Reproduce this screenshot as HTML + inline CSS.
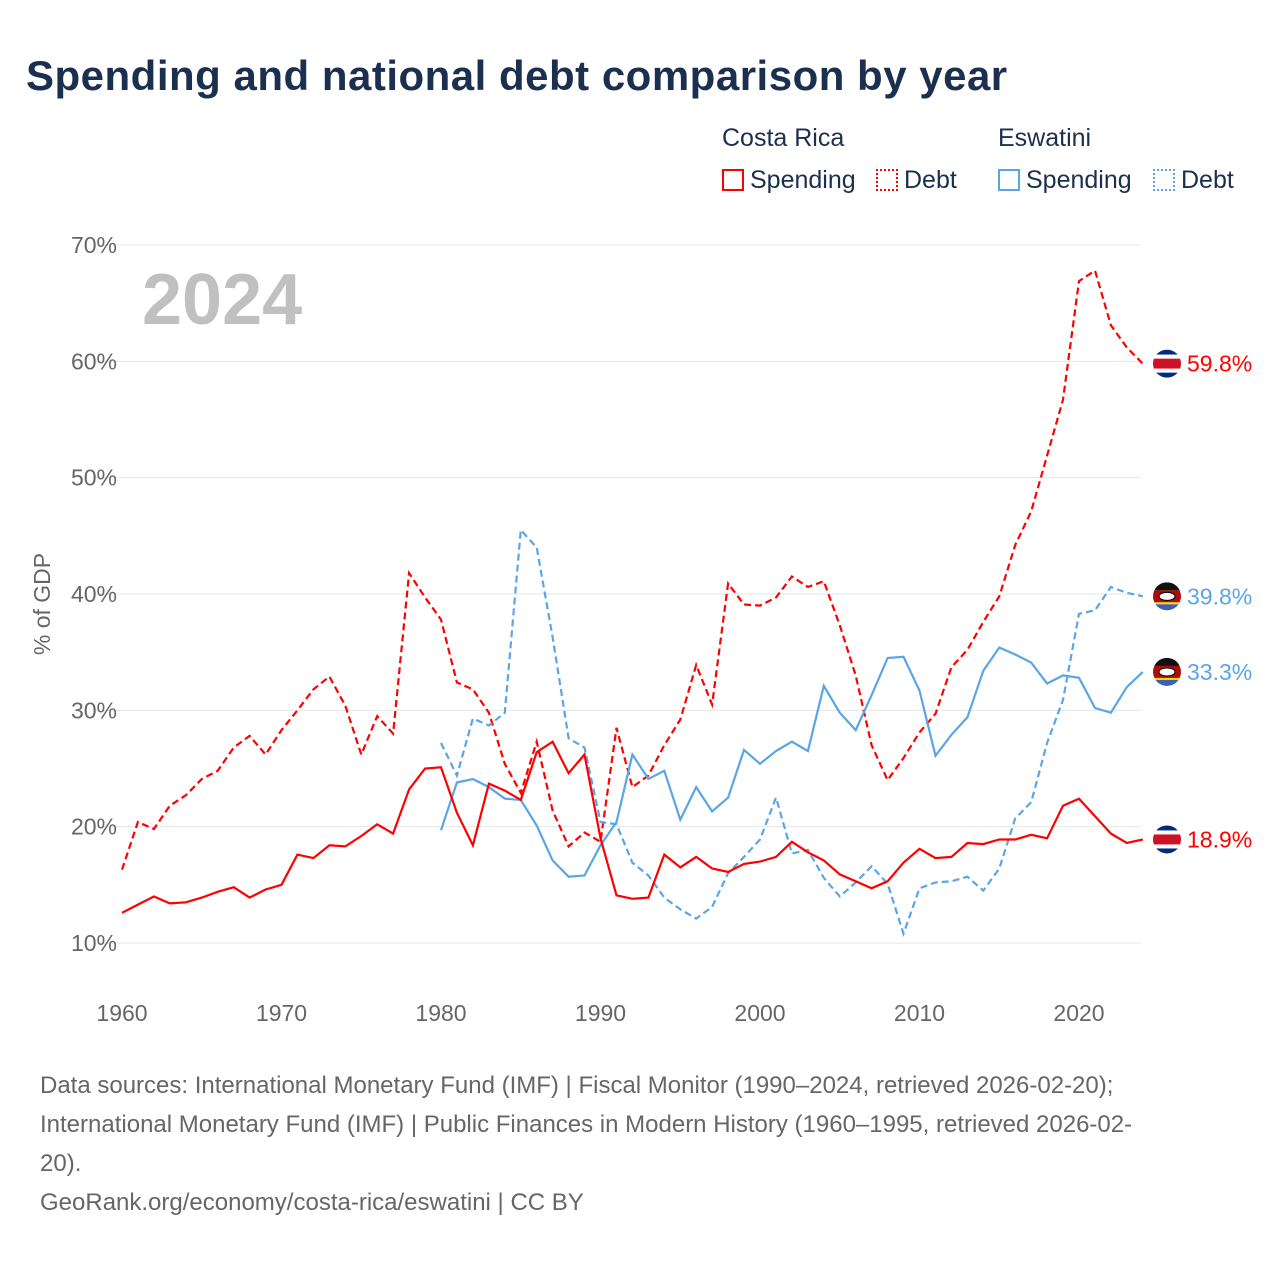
<!DOCTYPE html>
<html><head><meta charset="utf-8">
<style>
body{margin:0;background:#fff;font-family:"Liberation Sans",sans-serif;}
#wrap{position:relative;width:1280px;height:1280px;overflow:hidden;}
h1{position:absolute;left:26px;top:52px;margin:0;font-size:42px;font-weight:bold;color:#1b2f4e;letter-spacing:0.5px;}
.leg{position:absolute;font-size:25px;color:#1b2f4e;}
.foot{position:absolute;left:40px;top:1066px;width:1220px;font-size:24px;line-height:39px;color:#666;}
</style></head><body>
<div id="wrap">
<h1>Spending and national debt comparison by year</h1>
<div class="leg" style="left:722px;top:124px">Costa Rica</div>
<div class="leg" style="left:998px;top:124px">Eswatini</div>
<div class="leg" style="left:722px;top:166px"><span style="display:inline-block;width:22px;height:22px;border:2px solid #f00;box-sizing:border-box;vertical-align:-3px;margin-right:6px"></span>Spending</div>
<div class="leg" style="left:876px;top:166px"><span style="display:inline-block;width:22px;height:22px;border:2px dotted #f00;box-sizing:border-box;vertical-align:-3px;margin-right:6px"></span>Debt</div>
<div class="leg" style="left:998px;top:166px"><span style="display:inline-block;width:22px;height:22px;border:2px solid #5aa5e8;box-sizing:border-box;vertical-align:-3px;margin-right:6px"></span>Spending</div>
<div class="leg" style="left:1153px;top:166px"><span style="display:inline-block;width:22px;height:22px;border:2px dotted #5aa5e8;box-sizing:border-box;vertical-align:-3px;margin-right:6px"></span>Debt</div>
<svg id="chart" width="1280" height="1280" style="position:absolute;left:0;top:0"></svg>
<div class="foot">Data sources: International Monetary Fund (IMF) | Fiscal Monitor (1990–2024, retrieved 2026-02-20);<br>International Monetary Fund (IMF) | Public Finances in Modern History (1960–1995, retrieved 2026-02-<br>20).<br>GeoRank.org/economy/costa-rica/eswatini | CC BY</div>
</div>
<script>
const yTicks=[10,20,30,40,50,60,70];
const xTicks=[1960,1970,1980,1990,2000,2010,2020];
const crYears0=1960;
const crSpending=[12.6,13.3,14.0,13.4,13.5,13.9,14.4,14.8,13.9,14.6,15.0,17.6,17.3,18.4,18.3,19.2,20.2,19.4,23.2,25.0,25.1,21.2,18.4,23.7,23.1,22.3,26.4,27.3,24.6,26.2,19.0,14.1,13.8,13.9,17.6,16.5,17.4,16.4,16.1,16.8,17.0,17.4,18.7,17.8,17.1,15.9,15.3,14.7,15.3,16.9,18.1,17.3,17.4,18.6,18.5,18.9,18.9,19.3,19.0,21.8,22.4,20.9,19.4,18.6,18.9];
const crDebt=[16.3,20.4,19.8,21.8,22.7,24.1,24.8,26.8,27.8,26.2,28.3,30.0,31.8,32.9,30.4,26.2,29.5,28.0,41.8,39.7,37.8,32.4,31.8,29.8,25.4,22.9,27.3,21.4,18.3,19.5,18.7,28.5,23.4,24.4,27.0,29.2,33.9,30.5,40.9,39.1,39.0,39.7,41.5,40.6,41.1,37.3,33.0,27.0,24.0,25.9,28.1,29.7,33.7,35.2,37.6,39.8,44.2,47.1,51.9,56.7,66.9,67.8,63.1,61.2,59.8];
const szYears0=1980;
const szSpending=[19.7,23.8,24.1,23.4,22.4,22.3,20.1,17.1,15.7,15.8,18.4,20.4,26.2,24.1,24.8,20.6,23.4,21.3,22.5,26.6,25.4,26.5,27.3,26.5,32.1,29.8,28.3,31.3,34.5,34.6,31.7,26.1,27.9,29.4,33.4,35.4,34.8,34.1,32.3,33.0,32.8,30.2,29.8,32.0,33.3];
const szDebt=[27.2,24.4,29.3,28.7,29.8,45.5,44.0,36.3,27.6,26.8,20.4,20.2,16.9,15.8,13.9,12.9,12.1,13.1,16.0,17.4,18.9,22.5,17.7,18.0,15.6,14.0,15.2,16.6,15.1,10.8,14.7,15.2,15.3,15.7,14.5,16.4,20.7,22.1,27.2,30.9,38.3,38.6,40.6,40.1,39.8];

const X=y=>122+(y-1960)*(1079-122)/60;
const Y=v=>943-(v-10)*(943-245)/60;
const svg=document.getElementById('chart');
const NS='http://www.w3.org/2000/svg';
function mk(t,a){const e=document.createElementNS(NS,t);for(const k in a)e.setAttribute(k,a[k]);svg.appendChild(e);return e;}
yTicks.forEach(v=>{
 const l=mk('line',{x1:95,x2:1141,y1:Y(v),y2:Y(v),stroke:'#e6e6e6','stroke-width':1});
 
 
 const t=mk('text',{x:117,y:Y(v)+8,'text-anchor':'end','font-size':23,fill:'#666','font-family':'Liberation Sans, sans-serif'});
 t.textContent=v+'%';
 
 
});
xTicks.forEach(y=>{
 const t=mk('text',{x:X(y),y:1021,'text-anchor':'middle','font-size':23,fill:'#666','font-family':'Liberation Sans, sans-serif'});
 t.textContent=y;
 
 
});
const yt=mk('text',{x:0,y:0,transform:'translate(50,604) rotate(-90)','text-anchor':'middle','font-size':23,fill:'#666','font-family':'Liberation Sans, sans-serif'});
yt.textContent='% of GDP';


const yr=mk('text',{x:142,y:324,'font-size':72,'font-weight':'bold',fill:'#c0c0c0','font-family':'Liberation Sans, sans-serif'});
yr.textContent='2024';



function series(arr,y0,color,dash,name){
 const d=arr.map((v,i)=>(i?'L':'M')+X(y0+i).toFixed(1)+','+Y(v).toFixed(1)).join(' ');
 const p=mk('path',{d:d,fill:'none',stroke:color,'stroke-width':2.2});
 if(dash)p.setAttribute('stroke-dasharray','7,4');
 
 
}
series(crDebt,crYears0,'#f00',true,'line-costa-rica-debt');
series(szDebt,szYears0,'#5aa5e8',true,'line-eswatini-debt');
series(szSpending,szYears0,'#5aa5e8',false,'line-eswatini-spending');
series(crSpending,crYears0,'#f00',false,'line-costa-rica-spending');

function flag(v,type,name){
 const cx=1167,cy=Y(v);
 const g=document.createElementNS(NS,'g');svg.appendChild(g);
 
 
 const id='c'+name;
 const cp=document.createElementNS(NS,'clipPath');cp.setAttribute('id',id);
 const c=document.createElementNS(NS,'circle');c.setAttribute('cx',cx);c.setAttribute('cy',cy);c.setAttribute('r',14);cp.appendChild(c);g.appendChild(cp);
 const bands=type==='cr'?[['#002b7f',5],['#fff',4],['#ce1126',10],['#fff',4],['#002b7f',5]]:[['#3e5eb9',6],['#ffd900',2],['#b10c0c',12],['#ffd900',2],['#3e5eb9',6]];
 let y=cy-14;
 bands.forEach(b=>{const r=document.createElementNS(NS,'rect');r.setAttribute('x',cx-14);r.setAttribute('y',y);r.setAttribute('width',28);r.setAttribute('height',b[1]);r.setAttribute('fill',b[0]);r.setAttribute('clip-path','url(#'+id+')');g.appendChild(r);y+=b[1];});
 if(type==='sz'){const e=document.createElementNS(NS,'ellipse');e.setAttribute('cx',cx);e.setAttribute('cy',cy);e.setAttribute('rx',8);e.setAttribute('ry',4);e.setAttribute('fill','#fff');e.setAttribute('stroke','#000');g.appendChild(e);const top=document.createElementNS(NS,'rect');top.setAttribute('x',cx-14);top.setAttribute('y',cy-14);top.setAttribute('width',28);top.setAttribute('height',8);top.setAttribute('fill','#111');top.setAttribute('clip-path','url(#'+id+')');g.appendChild(top);}
}
function endLabel(v,color,name){
 const t=mk('text',{x:1187,y:Y(v)+8,'font-size':23,fill:color,'font-family':'Liberation Sans, sans-serif'});
 t.textContent=v.toFixed(1)+'%';
 
 
}
flag(crDebt[crDebt.length-1],'cr','flag-costa-rica-debt');
flag(szDebt[szDebt.length-1],'sz','flag-eswatini-debt');
flag(szSpending[szSpending.length-1],'sz','flag-eswatini-spending');
flag(crSpending[crSpending.length-1],'cr','flag-costa-rica-spending');
endLabel(crDebt[crDebt.length-1],'#f00','end-label-cr-debt');
endLabel(szDebt[szDebt.length-1],'#5aa5e8','end-label-sz-debt');
endLabel(szSpending[szSpending.length-1],'#5aa5e8','end-label-sz-spending');
endLabel(crSpending[crSpending.length-1],'#f00','end-label-cr-spending');
</script>
</body></html>
